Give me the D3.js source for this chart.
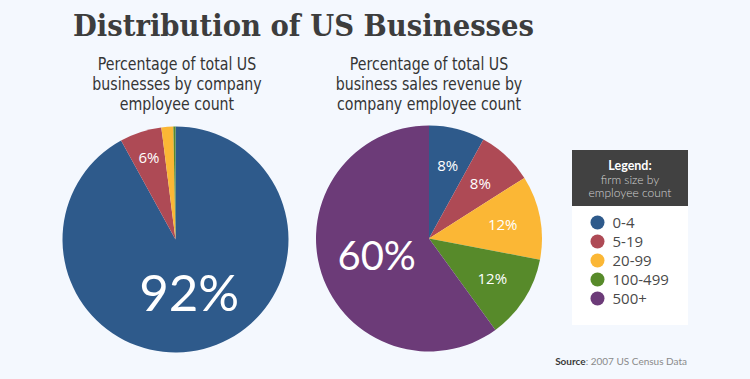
<!DOCTYPE html>
<html>
<head>
<meta charset="utf-8">
<script src="https://cdn.jsdelivr.net/npm/d3@7"></script>
<style>
  html, body { margin: 0; padding: 0; background: #f4f8fe; }
  svg { display: block; }
</style>
</head>
<body>
<div id="chart"></div>
<script>
// ---- data ----
const categories = ["0-4", "5-19", "20-99", "100-499", "500+"];
const colors = ["#2e5a8b", "#ae4a55", "#fbb735", "#578a2a", "#6c3b78"];
const businessesShare = [92, 6, 1.7, 0.3, 0];
const revenueShare = [8, 8, 12, 12, 60];
const title = "Distribution of US Businesses";
const leftSubtitle = ["Percentage of total US", "businesses by company", "employee count"];
const rightSubtitle = ["Percentage of total US", "business sales revenue by", "company employee count"];
const legendHeader = ["Legend:", "firm size by", "employee count"];
const sourceLabel = "Source";
const sourceText = ": 2007 US Census Data";

// ---- layout ----
const W = 750, H = 379;
const svg = d3.select("#chart").append("svg").attr("width", W).attr("height", H);
svg.append("rect").attr("width", W).attr("height", H).attr("fill", "#f4f8fe");

const labelFont = "Lato, 'Open Sans', sans-serif";
const smallFont = "'Open Sans', Lato, sans-serif";

svg.append("text")
  .attr("x", 73).attr("y", 36)
  .attr("font-family", "'DejaVu Serif Condensed', 'DejaVu Serif', serif")
  .attr("font-weight", "bold")
  .attr("font-size", 29)
  .attr("fill", "#3d3d3d")
  .attr("textLength", 461)
  .attr("lengthAdjust", "spacingAndGlyphs")
  .text(title);

function subtitle(lines, cx) {
  const t = svg.append("g")
    .attr("transform", `translate(${cx},0) scale(0.9,1)`)
    .append("text")
    .attr("font-family", "'Liberation Sans Narrow', 'DejaVu Sans Condensed', sans-serif")
    .attr("font-size", 17.5)
    .attr("fill", "#353535")
    .attr("text-anchor", "middle");
  lines.forEach((l, i) => {
    t.append("tspan").attr("x", 0).attr("y", 70 + i * 20).text(l);
  });
}

const r = 113;
const pie = d3.pie().sort(null).value(d => d);
const arc = d3.arc().innerRadius(0).outerRadius(r);

function drawPie(values, cx, cy, smallR) {
  const g = svg.append("g").attr("transform", `translate(${cx},${cy})`);
  const arcs = pie(values);
  g.selectAll("path").data(arcs).join("path")
    .attr("d", arc)
    .attr("fill", (d, i) => colors[i]);
  const bigArc = d3.arc().innerRadius(55).outerRadius(55);
  const smallArc = d3.arc().innerRadius(smallR).outerRadius(smallR);
  g.selectAll("text").data(arcs.filter(d => d.data >= 5)).join("text")
    .attr("transform", d => {
      const c = (d.data >= 50 ? bigArc : smallArc).centroid(d);
      return `translate(${c[0]},${c[1]})`;
    })
    .attr("text-anchor", "middle")
    .attr("dy", "0.36em")
    .attr("font-family", d => d.data >= 50 ? labelFont : smallFont)
    .attr("font-size", d => d.data >= 90 ? 51 : d.data >= 50 ? 40 : 15)
    .attr("fill", "#ffffff")
    .text(d => d.data + "%");
}

subtitle(leftSubtitle, 177);
subtitle(rightSubtitle, 429);
drawPie(businessesShare, 175.5, 239.5, 86);
drawPie(revenueShare, 429, 238.5, 75);

// ---- legend ----
const lg = svg.append("g");
lg.append("rect").attr("x", 572).attr("y", 150).attr("width", 116).attr("height", 175).attr("fill", "#ffffff");
lg.append("rect").attr("x", 572).attr("y", 150).attr("width", 116).attr("height", 56).attr("fill", "#414141");
lg.append("text").attr("x", 630).attr("y", 169.5).attr("text-anchor", "middle")
  .attr("font-family", labelFont).attr("font-weight", "bold").attr("font-size", 12.5)
  .attr("fill", "#ffffff").text(legendHeader[0]);
lg.append("text").attr("x", 630).attr("y", 183.5).attr("text-anchor", "middle")
  .attr("font-family", labelFont).attr("font-weight", 300).attr("font-size", 12)
  .attr("fill", "#d2d2d2").text(legendHeader[1]);
lg.append("text").attr("x", 630).attr("y", 197).attr("text-anchor", "middle")
  .attr("font-family", labelFont).attr("font-weight", 300).attr("font-size", 12)
  .attr("fill", "#d2d2d2").text(legendHeader[2]);

const ly = d3.scaleBand().domain(categories).range([213, 308]);
const items = lg.selectAll("g.item").data(categories).join("g")
  .attr("class", "item")
  .attr("transform", d => `translate(597.5,${ly(d) + ly.bandwidth() / 2})`);
items.append("circle").attr("r", 7).attr("fill", (d, i) => colors[i]);
items.append("text").attr("x", 15).attr("dy", "0.36em")
  .attr("font-family", smallFont).attr("font-size", 15)
  .attr("fill", "#4a4a4a").text(d => d);

// ---- source ----
const src = svg.append("text").attr("x", 687).attr("y", 365).attr("text-anchor", "end")
  .attr("font-family", labelFont).attr("font-size", 10);
src.append("tspan").attr("fill", "#3a3a3a").attr("font-weight", "bold").text(sourceLabel);
src.append("tspan").attr("fill", "#8a8a8a").text(sourceText);
</script>
</body>
</html>
